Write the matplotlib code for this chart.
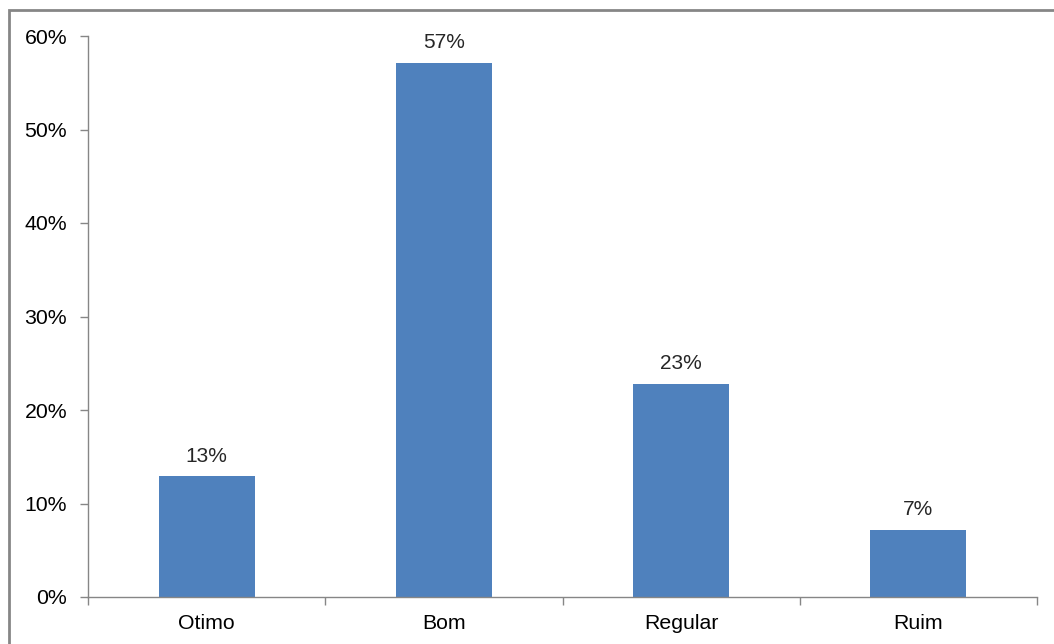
import numpy as np
import matplotlib
matplotlib.use("Agg")
import matplotlib.pyplot as plt
from matplotlib.patches import Rectangle
from matplotlib.ticker import FixedLocator, PercentFormatter

categories = ["Otimo", "Bom", "Regular", "Ruim"]
values = [12.9, 57.1, 22.8, 7.2]  # percent
yticks = [0, 10, 20, 30, 40, 50, 60]

plt.rcParams['font.family'] = ['Liberation Sans', 'DejaVu Sans']
axis_grey = "#868686"
bar_blue = "#4F81BD"

fig = plt.figure(figsize=(10.54, 6.44), dpi=100)
ax = fig.add_axes([88/1054, 1 - 597/644, (1037 - 88)/1054, (597 - 36)/644])

x = np.arange(len(categories))
ax.bar(x, values, width=0.405, color=bar_blue, zorder=2)
for xi, v in zip(x, values):
    ax.text(xi, v + 1.15, f"{v:.0f}%", ha="center", va="bottom", fontsize=15, color="#262626")

ax.set_xlim(-0.5, len(categories) - 0.5)
ax.set_ylim(0, 60)
ax.set_yticks(yticks)
ax.yaxis.set_major_formatter(PercentFormatter(decimals=0))
ax.set_xticks(x)
ax.set_xticklabels(categories, fontsize=15.3)
# category boundary ticks on the x axis
ax.xaxis.set_minor_locator(FixedLocator(np.arange(-0.5, len(categories), 1.0)))
ax.tick_params(axis="x", which="major", length=0, pad=12)
ax.tick_params(axis="x", which="minor", length=6, color=axis_grey, width=1)
ax.tick_params(axis="y", length=6, color=axis_grey, width=1, labelsize=15.3, pad=9)

for side in ("top", "right"):
    ax.spines[side].set_visible(False)
for side in ("left", "bottom"):
    ax.spines[side].set_color(axis_grey)
    ax.spines[side].set_linewidth(1)

# chart area frame
fig.patches.append(Rectangle((9/1054, -0.05), 1.1, 1 - 10/644 + 0.05, transform=fig.transFigure,
                             fill=False, edgecolor=axis_grey, linewidth=2))

fig.savefig("out.png", dpi=100)
